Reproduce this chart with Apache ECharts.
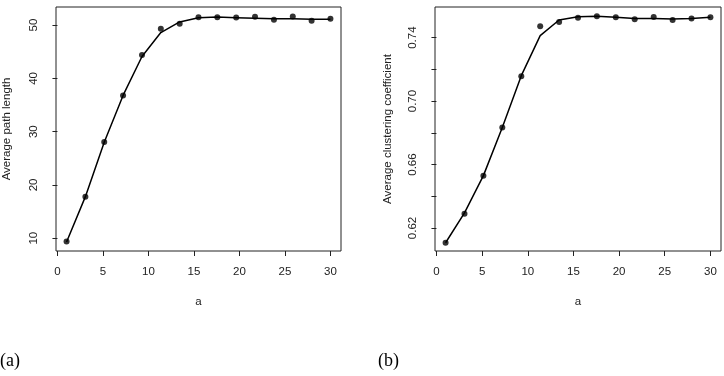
<!DOCTYPE html>
<html>
<head>
<meta charset="utf-8">
<script src="https://cdn.jsdelivr.net/npm/echarts@6/dist/echarts.min.js"></script>
<style>
  html, body { margin: 0; padding: 0; background: #fff; }
  #main { width: 724px; height: 376px; }
</style>
</head>
<body>
<div id="main"></div>
<script>
// a values (15 points from 1 to 30)
const aValues = [1, 3.07, 5.14, 7.21, 9.29, 11.36, 13.43, 15.5, 17.57, 19.64, 21.71, 23.79, 25.86, 27.93, 30]

// (a) average path length
const pathPoints = [9.38, 17.78, 28.04, 36.81, 44.4, 49.32, 50.25, 51.49, 51.49, 51.45, 51.56, 51.0, 51.6, 50.8, 51.2]
const pathFit = [9.3, 17.8, 28.0, 36.8, 44.1, 48.6, 50.6, 51.4, 51.5, 51.4, 51.3, 51.2, 51.2, 51.1, 51.1]

// (b) average clustering coefficient
const clusterPoints = [0.6107, 0.629, 0.653, 0.6833, 0.7156, 0.7471, 0.7499, 0.7526, 0.7535, 0.7528, 0.7516, 0.753, 0.7511, 0.752, 0.7528]
const clusterFit = [0.6107, 0.6295, 0.653, 0.6833, 0.716, 0.7413, 0.7511, 0.7532, 0.7535, 0.7528, 0.752, 0.752, 0.7518, 0.752, 0.7528]

const xTicks = [0, 5, 10, 15, 20, 25, 30]
const pathTicks = [10, 20, 30, 40, 50]
const clusterTicks = [0.62, 0.64, 0.66, 0.68, 0.70, 0.72, 0.74]
const clusterLabels = [0.62, 0.66, 0.70, 0.74]

const FONT = 'Liberation Sans'
const labelStyle = { color: '#222', fontSize: 11.5, fontFamily: FONT }

function pairs(xs, ys) {
    return xs.map((x, i) => [x, ys[i]])
}

function xAxisFor(gridIndex) {
    return {
        type: 'value', gridIndex: gridIndex,
        min: -0.16, max: 31.16,
        name: 'a', nameLocation: 'middle', nameGap: 45,
        nameTextStyle: labelStyle,
        axisLine: { show: false },
        axisTick: { show: true, length: 5, customValues: xTicks, lineStyle: { color: '#222' } },
        axisLabel: Object.assign({ margin: 15, customValues: xTicks }, labelStyle),
        splitLine: { show: false }
    }
}

const myChart = echarts.init(document.getElementById('main'))

myChart.setOption({
    animation: false,
    grid: [
        { left: 55, top: 7, width: 286, height: 244, show: true, borderColor: '#222', borderWidth: 1 },
        { left: 435, top: 7, width: 286, height: 244, show: true, borderColor: '#222', borderWidth: 1 }
    ],
    xAxis: [xAxisFor(0), xAxisFor(1)],
    yAxis: [
        {
            type: 'value', gridIndex: 0, min: 7.6, max: 53.4,
            name: 'Average path length', nameLocation: 'middle', nameGap: 43,
            nameTextStyle: labelStyle,
            axisLine: { show: false },
            axisTick: { show: true, length: 5, customValues: pathTicks, lineStyle: { color: '#222' } },
            axisLabel: Object.assign({ margin: 16, rotate: 90, customValues: pathTicks }, labelStyle),
            splitLine: { show: false }
        },
        {
            type: 'value', gridIndex: 1, min: 0.6055, max: 0.7593,
            name: 'Average clustering coefficient', nameLocation: 'middle', nameGap: 41,
            nameTextStyle: labelStyle,
            axisLine: { show: false },
            axisTick: { show: true, length: 5, customValues: clusterTicks, lineStyle: { color: '#222' } },
            axisLabel: Object.assign({
                margin: 16, rotate: 90, customValues: clusterLabels,
                formatter: v => v.toFixed(2)
            }, labelStyle),
            splitLine: { show: false }
        }
    ],
    graphic: [
        { type: 'text', left: 0, top: 352, style: { text: '(a)', fontSize: 18, fontFamily: 'Liberation Serif', fill: '#000' } },
        { type: 'text', left: 378, top: 352, style: { text: '(b)', fontSize: 18, fontFamily: 'Liberation Serif', fill: '#000' } }
    ],
    series: [
        {
            type: 'line', xAxisIndex: 0, yAxisIndex: 0, data: pairs(aValues, pathFit),
            showSymbol: false, lineStyle: { color: '#000', width: 1.5 }, silent: true
        },
        {
            type: 'scatter', xAxisIndex: 0, yAxisIndex: 0, data: pairs(aValues, pathPoints),
            symbolSize: 6, itemStyle: { color: '#000' }
        },
        {
            type: 'line', xAxisIndex: 1, yAxisIndex: 1, data: pairs(aValues, clusterFit),
            showSymbol: false, lineStyle: { color: '#000', width: 1.5 }, silent: true
        },
        {
            type: 'scatter', xAxisIndex: 1, yAxisIndex: 1, data: pairs(aValues, clusterPoints),
            symbolSize: 6, itemStyle: { color: '#000' }
        }
    ]
})
</script>
</body>
</html>
